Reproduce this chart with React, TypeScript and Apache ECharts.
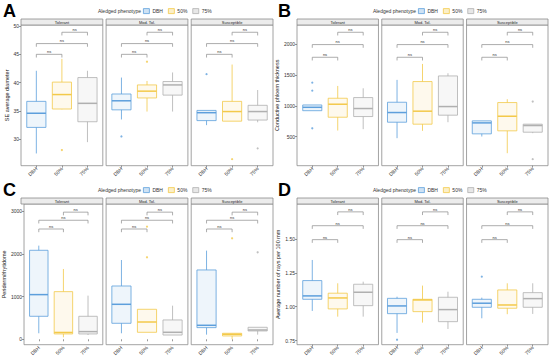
import React, { useEffect, useRef } from "react";
import * as echarts from "echarts";

const groups = ["DBH", "50%", "75%"];
const facets = ["Tolerant", "Mod. Tol.", "Susceptible"];
const letters = ["A", "B", "C", "D"];
const legendTitle = "Aledged phenotype";
const yTitles = [
  "SE average diameter",
  "Conductive phloem thickness",
  "Periderm/rhytidome",
  "Average number of rays per 100 mm",
];
const bracketPairs = [
  [1, 2],
  [1, 3],
  [2, 3],
];
const bracketLabel = "ns";

// box stats per facet (Tolerant, Mod. Tol., Susceptible) per group (DBH, 50%, 75%): [min, q1, median, q3, max]
const boxesA = [
  [[27.5, 32.1, 34.6, 36.7, 42.1], [35.3, 35.35, 37.9, 40.1, 44.2], [29.5, 33.1, 36.35, 40.9, 42.1]],
  [[33.5, 35.2, 36.8, 38.0, 40.9], [34.9, 37.3, 38.5, 39.6, 40.3], [34.9, 37.8, 39.6, 40.2, 41.8]],
  [[32.5, 33.3, 34.7, 35.1, 35.1], [33.2, 33.2, 34.9, 36.7, 43.2], [33.0, 33.4, 34.9, 36.0, 38.7]],
];
const outliersA = [[[], [28.1], []], [[30.5], [43.7], []], [[41.5], [26.5], [28.4]]];
const bracketsA = [45.0, 46.9, 48.9];
const yTicksA = [30, 35, 40, 45, 50];

const boxesB = [
  [[922, 922, 977, 1015, 1015], [600, 816, 1027, 1124, 1324], [622, 827, 957, 1135, 1286]],
  [[476, 735, 892, 1059, 1422], [595, 703, 914, 1395, 1681], [735, 849, 989, 1486, 1530]],
  [[503, 546, 724, 757, 757], [232, 595, 832, 1054, 1108], [557, 573, 681, 703, 703]],
];
const outliersB = [[[1377, 1247, 636], [], []], [[], [], []], [[], [], [1070, 135]]];
const bracketsB = [1789, 1995, 2195];
const yTicksB = [500, 1000, 1500, 2000];

const boxesC = [
  [[141, 539, 1047, 2086, 2195], [47, 125, 160, 1117, 1648], [100, 125, 180, 539, 1023]],
  [[141, 375, 820, 1249, 1858], [164, 164, 405, 703, 703], [100, 100, 164, 453, 788]],
  [[109, 273, 328, 1625, 2078], [0, 78, 117, 141, 141], [109, 195, 218, 281, 281]],
];
const outliersC = [[[], [], []], [[], [2640, 1922], []], [[], [2367], [2039]]];
const bracketsC = [2585, 2790, 2980];
const yTicksC = [0, 1000, 2000, 3000];

const boxesD = [
  [[0.969, 1.055, 1.080, 1.193, 1.345], [0.927, 0.984, 1.065, 1.100, 1.173], [0.927, 1.008, 1.107, 1.166, 1.185]],
  [[0.807, 0.949, 1.006, 1.062, 1.074], [0.883, 0.964, 1.050, 1.055, 1.156], [0.836, 0.890, 0.979, 1.070, 1.111]],
  [[0.915, 0.996, 1.026, 1.055, 1.067], [0.945, 0.989, 1.013, 1.124, 1.173], [0.947, 0.996, 1.060, 1.104, 1.173]],
];
const outliersD = [[[], [], []], [[0.757], [], []], [[1.222], [], []]];
const bracketsD = [1.495, 1.598, 1.70];
const yTicksD = [0.75, 1.0, 1.25, 1.5];

const FONT = "'Liberation Sans', Arial, sans-serif";
const groupColors = ["#5d9fdc", "#f3c94a", "#b0b0b0"];
const groupFills = ["rgba(93,159,220,0.10)", "rgba(243,201,74,0.10)", "rgba(176,176,176,0.10)"];

const panels = [
  { box: boxesA, out: outliersA, br: bracketsA, ticks: yTicksA, min: 25.34, max: 50.18, dec: 0, ox: 0, oy: 0, left: 21, nameGap: 9 },
  { box: boxesB, out: outliersB, br: bracketsB, ticks: yTicksB, min: 29, max: 2313, dec: 0, ox: 275, oy: 0, left: 22, nameGap: 15 },
  { box: boxesC, out: outliersC, br: bracketsC, ticks: yTicksC, min: -127, max: 3171, dec: 0, ox: 0, oy: 179, left: 21, nameGap: 16 },
  { box: boxesD, out: outliersD, br: bracketsD, ticks: yTicksD, min: 0.72, max: 1.758, dec: 2, ox: 275, oy: 179, left: 22, nameGap: 15 },
];

function makeBoxRenderer(k: number) {
  return (params: any, api: any) => {
    const x = api.value(0);
    const pMin = api.coord([x, api.value(1)]);
    const pQ1 = api.coord([x, api.value(2)]);
    const pMed = api.coord([x, api.value(3)]);
    const pQ3 = api.coord([x, api.value(4)]);
    const pMax = api.coord([x, api.value(5)]);
    const w = api.size([0.75, 0])[0];
    const cx = pMed[0];
    const c = groupColors[k];
    return {
      type: "group",
      children: [
        { type: "line", shape: { x1: cx, y1: pMax[1], x2: cx, y2: pQ3[1] }, style: { stroke: c, lineWidth: 0.8 } },
        { type: "line", shape: { x1: cx, y1: pQ1[1], x2: cx, y2: pMin[1] }, style: { stroke: c, lineWidth: 0.8 } },
        {
          type: "rect",
          shape: { x: cx - w / 2, y: pQ3[1], width: w, height: Math.max(pQ1[1] - pQ3[1], 0.5) },
          style: { fill: groupFills[k], stroke: c, lineWidth: 0.8 },
        },
        { type: "line", shape: { x1: cx - w / 2, y1: pMed[1], x2: cx + w / 2, y2: pMed[1] }, style: { stroke: c, lineWidth: 1.5 } },
      ],
    };
  };
}

function renderBracket(params: any, api: any) {
  const a = api.coord([api.value(0), api.value(2)]);
  const b = api.coord([api.value(1), api.value(2)]);
  const y = a[1];
  return {
    type: "group",
    children: [
      {
        type: "polyline",
        shape: { points: [[a[0], y + 3.2], [a[0], y], [b[0], y], [b[0], y + 3.2]] },
        style: { stroke: "#8a8a8a", lineWidth: 0.7, fill: null },
      },
      {
        type: "text",
        x: (a[0] + b[0]) / 2,
        y: y - 0.6,
        style: { text: bracketLabel, textAlign: "center", textVerticalAlign: "bottom", fontSize: 4, fontFamily: FONT, fill: "#333" },
      },
    ],
  };
}

function buildOption() {
  const grid: any[] = [];
  const xAxis: any[] = [];
  const yAxis: any[] = [];
  const series: any[] = [];
  const legend: any[] = [];
  const graphic: any[] = [];
  const gap = 3.3;
  const right = 273;
  const top = 25;
  const height = 140.7;

  panels.forEach((p, pi) => {
    const fw = (right - p.left - 2 * gap) / 3;
    facets.forEach((fname, fi) => {
      const gi = grid.length;
      const gx = p.ox + p.left + fi * (fw + gap);
      grid.push({
        left: gx,
        top: p.oy + top,
        width: fw,
        height,
        show: true,
        borderColor: "#8c8c8c",
        borderWidth: 0.8,
        backgroundColor: "#ffffff",
      });
      xAxis.push({
        gridIndex: gi,
        type: "value",
        min: 0.4,
        max: 3.6,
        splitLine: { show: false },
        axisLine: { show: false },
        axisTick: { show: true, customValues: [1, 2, 3], length: 2, lineStyle: { color: "#555", width: 0.6 } },
        axisLabel: {
          show: true,
          customValues: [1, 2, 3],
          formatter: (v: number) => groups[Math.round(v) - 1],
          rotate: 45,
          fontSize: 5,
          color: "#333",
          margin: 2,
          fontFamily: FONT,
        },
      });
      yAxis.push({
        gridIndex: gi,
        type: "value",
        min: p.min,
        max: p.max,
        splitLine: { show: false },
        axisLine: { show: false },
        axisTick: { show: fi === 0, customValues: p.ticks, length: 2, lineStyle: { color: "#555", width: 0.6 } },
        axisLabel: {
          show: fi === 0,
          customValues: p.ticks,
          formatter: (v: number) => v.toFixed(p.dec),
          fontSize: 5,
          color: "#333",
          margin: 2,
          fontFamily: FONT,
        },
        name: fi === 0 ? yTitles[pi] : "",
        nameLocation: "middle",
        nameGap: p.nameGap,
        nameTextStyle: { fontSize: 5.5, color: "#222", fontFamily: FONT },
      });
      groups.forEach((g, k) => {
        const s = p.box[fi][k];
        series.push({
          type: "custom",
          name: g,
          xAxisIndex: gi,
          yAxisIndex: gi,
          itemStyle: { color: groupColors[k] },
          data: [[k + 1, ...s]],
          encode: { x: 0, y: [1, 2, 3, 4, 5] },
          renderItem: makeBoxRenderer(k),
          silent: true,
        });
        const outs = p.out[fi][k];
        if (outs.length) {
          series.push({
            type: "scatter",
            name: g,
            xAxisIndex: gi,
            yAxisIndex: gi,
            symbolSize: 2.2,
            itemStyle: { color: groupColors[k] },
            data: outs.map((v: number) => [k + 1, v]),
            silent: true,
          });
        }
      });
      series.push({
        type: "custom",
        name: "brackets",
        xAxisIndex: gi,
        yAxisIndex: gi,
        data: bracketPairs.map((pr, bi) => [pr[0], pr[1], p.br[bi]]),
        encode: { x: [0, 1], y: 2 },
        renderItem: renderBracket,
        silent: true,
      });
      // strip
      graphic.push({
        type: "rect",
        shape: { x: gx, y: p.oy + 19, width: fw, height: 6 },
        style: { fill: "#ececec", stroke: "#8c8c8c", lineWidth: 0.8 },
        silent: true,
      });
      graphic.push({
        type: "text",
        x: gx + fw / 2,
        y: p.oy + 22.2,
        style: { text: fname, textAlign: "center", textVerticalAlign: "middle", fontSize: 4, fontFamily: FONT, fill: "#222" },
        silent: true,
      });
    });
    // panel letter
    graphic.push({
      type: "text",
      x: p.ox + 3,
      y: p.oy + 11,
      style: { text: letters[pi], textAlign: "left", textVerticalAlign: "middle", fontSize: 18, fontWeight: "bold", fontFamily: FONT, fill: "#000" },
      silent: true,
    });
    graphic.push({
      type: "text",
      x: p.ox + 141,
      y: p.oy + 10.7,
      style: { text: legendTitle, textAlign: "right", textVerticalAlign: "middle", fontSize: 5, fontFamily: FONT, fill: "#333" },
      silent: true,
    });
    legend.push({
      left: p.ox + 143,
      top: p.oy + 8.2,
      orient: "horizontal",
      itemWidth: 6,
      itemHeight: 5,
      itemGap: 5,
      padding: 0,
      selectedMode: false,
      textStyle: { fontSize: 5, color: "#333", fontFamily: FONT, padding: [0, 0, 0, -2] },
      data: groups.map((g, k) => ({
        name: g,
        icon: "rect",
        itemStyle: { color: groupFills[k].replace("0.10", "0.3"), borderColor: groupColors[k], borderWidth: 0.8 },
      })),
    });
  });

  return {
    animation: false,
    backgroundColor: "#ffffff",
    textStyle: { fontFamily: FONT },
    grid,
    xAxis,
    yAxis,
    series,
    legend,
    graphic,
  };
}

export default function App() {
  const ref = useRef<HTMLDivElement>(null);
  useEffect(() => {
    if (!ref.current) return;
    const chart = echarts.init(ref.current, undefined, { renderer: "svg" });
    chart.setOption(buildOption() as any);
    return () => chart.dispose();
  }, []);
  return <div ref={ref} style={{ position: "absolute", left: 0, top: 0, width: 550, height: 359 }} />;
}
